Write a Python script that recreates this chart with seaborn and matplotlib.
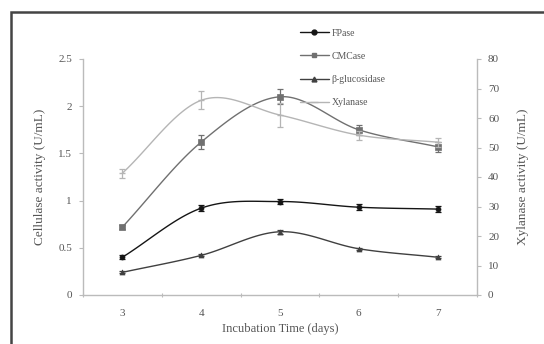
import numpy as np
import pandas as pd
import matplotlib
matplotlib.use("Agg")
import matplotlib.pyplot as plt
import seaborn as sns
from matplotlib.lines import Line2D
from matplotlib.patches import Rectangle

days = [3, 4, 5, 6, 7]
fpase = [0.40, 0.92, 0.99, 0.93, 0.91]
fpase_err = [0.02, 0.03, 0.03, 0.03, 0.03]
cmcase = [0.72, 1.62, 2.10, 1.75, 1.57]
cmcase_err = [0.02, 0.07, 0.08, 0.05, 0.05]
bgluc = [0.24, 0.42, 0.67, 0.49, 0.40]
bgluc_err = [0.01, 0.01, 0.02, 0.01, 0.01]
xylanase = [41.3, 66.0, 61.0, 54.2, 51.8]
xylanase_err = [1.5, 3.0, 4.0, 1.5, 1.5]

sns.set_theme(style="white")
plt.rcParams['font.family'] = ['Liberation Serif', 'DejaVu Serif']
TXT = '#555555'
AX = '#bbbbbb'

fig = plt.figure(figsize=(5.44, 3.44), dpi=100)
ax = fig.add_axes([83/544, 1-295/344, (477-83)/544, (295-59)/344])
ax2 = ax.twinx()


def smooth(x, y, n=30):
    x = np.asarray(x, float); y = np.asarray(y, float)
    px = np.concatenate([[2*x[0]-x[1]], x, [2*x[-1]-x[-2]]])
    py = np.concatenate([[2*y[0]-y[1]], y, [2*y[-1]-y[-2]]])
    xs, ys = [], []
    for i in range(1, len(px)-2):
        t = np.linspace(0, 1, n)
        p0, p1, p2, p3 = [(px[j], py[j]) for j in (i-1, i, i+1, i+2)]
        for k, arr in ((0, xs), (1, ys)):
            a0, a1, a2, a3 = p0[k], p1[k], p2[k], p3[k]
            arr.extend(0.5*((2*a1) + (-a0+a2)*t + (2*a0-5*a1+4*a2-a3)*t**2 + (-a0+3*a1-3*a2+a3)*t**3))
    return np.array(xs), np.array(ys)


series = [
    ("FPase", fpase, fpase_err, '#151515', 'o', ax),
    ("CMCase", cmcase, cmcase_err, '#707070', 's', ax),
    ("β-glucosidase", bgluc, bgluc_err, '#404040', '^', ax),
    ("Xylanase", xylanase, xylanase_err, '#b5b5b5', '_', ax2),
]

for name, vals, err, col, mk, a in series:
    sx, sy = smooth(days, vals)
    a.plot(sx, sy, color=col, lw=1.0, zorder=2)
    a.errorbar(days, vals, yerr=err, fmt='none', ecolor=col, elinewidth=0.9, capsize=2.5, capthick=0.9, zorder=3)
    df = pd.DataFrame({"day": days, "val": vals})
    if mk == '_':
        sns.scatterplot(data=df, x="day", y="val", ax=a, marker='_', color=col, s=25, linewidth=1.0, zorder=4, legend=False)
    else:
        sns.scatterplot(data=df, x="day", y="val", ax=a, marker=mk, color=col, s=13, edgecolor=col, linewidth=0.5, zorder=4, legend=False)

ax.set_xlim(2.5, 7.5)
ax.set_ylim(0, 2.5)
ax2.set_ylim(0, 80)
ax.set_xticks(days)
ax.set_xticklabels([str(d) for d in days])
ax.set_xticks(np.arange(2.5, 7.6, 1.0), minor=True)
ax.tick_params(axis='x', which='major', length=0, pad=10, labelsize=8, labelcolor=TXT)
ax.tick_params(axis='x', which='minor', length=3, width=0.8, color=AX, direction='inout', bottom=True)
ax.set_yticks([0, 0.5, 1, 1.5, 2, 2.5])
ax.set_yticklabels(['0', '0.5', '1', '1.5', '2', '2.5'])
ax.tick_params(axis='y', length=3, width=0.8, color=AX, left=True, labelsize=8, labelcolor=TXT, pad=5)
ax2.set_yticks(range(0, 81, 10))
ax2.tick_params(axis='y', length=3, width=0.8, color=AX, right=True, labelsize=8, labelcolor=TXT, pad=5)
ax.set_xlabel("Incubation Time (days)", fontsize=9, color=TXT, labelpad=4)
ax.set_ylabel("Cellulase activity (U/mL)", fontsize=9.5, color=TXT, labelpad=9)
ax2.set_ylabel("Xylanase activity (U/mL)", fontsize=9.5, color=TXT, labelpad=13)
ax2.set_xlabel("")

for a in (ax, ax2):
    a.spines['top'].set_visible(False)
    for s in ('left', 'right', 'bottom'):
        a.spines[s].set_color(AX)
        a.spines[s].set_linewidth(1.0)
ax.spines['right'].set_visible(False)
ax2.spines['left'].set_visible(False)
ax2.spines['bottom'].set_visible(False)

handles = [Line2D([0], [0], color=c, lw=1.0, marker=m, markersize=3.5 if m != '_' else 6,
                  markeredgecolor=c, markerfacecolor=c) for _, _, _, c, m, _ in series]
labels = [s[0] for s in series]
fig.legend(handles, labels, loc='upper left', bbox_to_anchor=(291/544, 1-20/344), frameon=False,
           fontsize=7, labelspacing=1.45, handlelength=3.0, handletextpad=0.3, labelcolor=TXT)

fig.patches.append(Rectangle((11/544, -0.1), 1.2, 1-12/344+0.1, transform=fig.transFigure,
                             fill=False, edgecolor='#444444', lw=1.8, zorder=10))

fig.savefig("out.png", dpi=100)
